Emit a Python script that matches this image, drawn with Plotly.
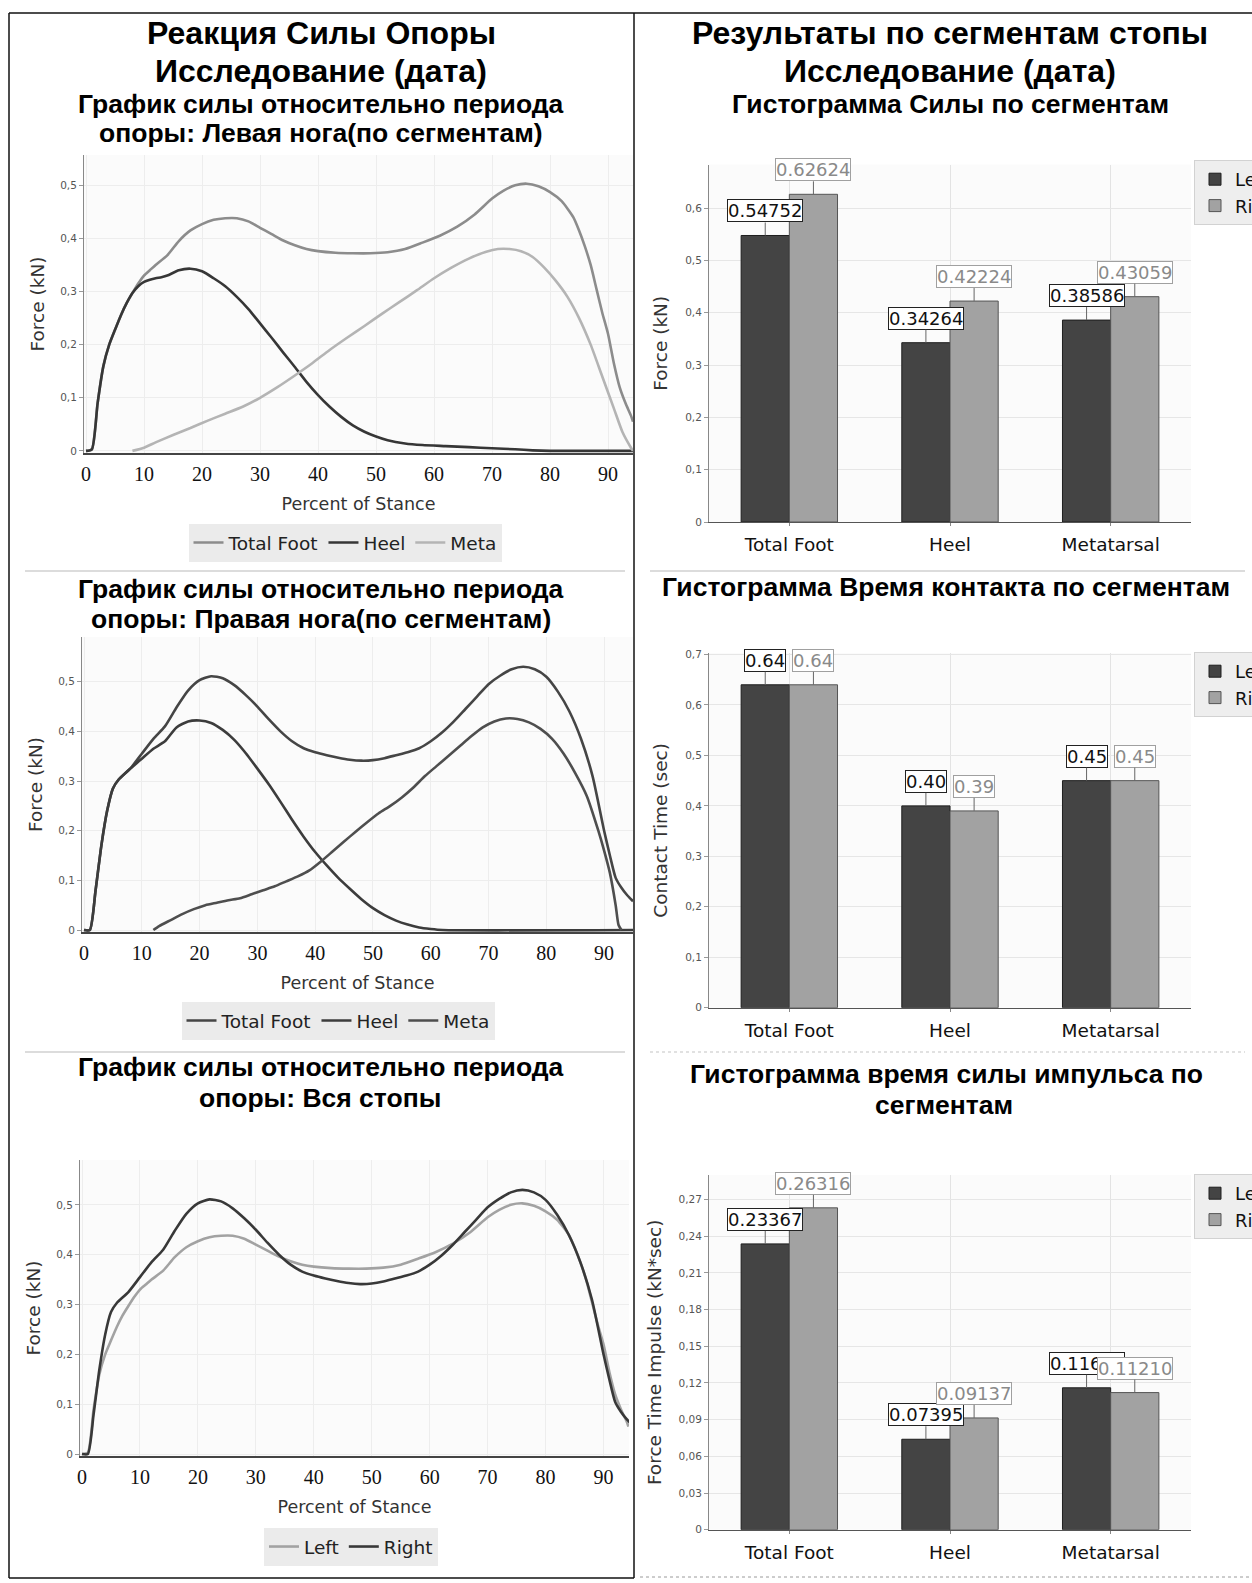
import plotly.graph_objects as go

W, H = 1252, 1583

# ---------------- Force vs Percent of Stance: left foot by segment ----------------
lt_pct = [0, 1, 2, 3, 4, 5, 6, 7, 8, 9, 10, 11, 12, 14, 16, 18, 20, 22, 24, 26, 28, 30, 32, 34,
          36, 38, 40, 43, 46, 49, 52, 55, 58, 61, 64, 67, 70, 72, 74, 76, 78, 80, 82, 84, 85, 86,
          87, 88, 89, 90, 91, 92, 93, 94, 94.3]
lt_kn = [0, 0.003, 0.09, 0.16, 0.2, 0.228, 0.255, 0.278, 0.297, 0.315, 0.33, 0.34, 0.35, 0.368,
         0.395, 0.415, 0.427, 0.435, 0.438, 0.438, 0.432, 0.42, 0.408, 0.396, 0.387, 0.38, 0.376,
         0.373, 0.372, 0.372, 0.374, 0.38, 0.392, 0.405, 0.422, 0.445, 0.475, 0.49, 0.5, 0.503,
         0.498, 0.487, 0.47, 0.44, 0.415, 0.385, 0.35, 0.305, 0.26, 0.22, 0.165, 0.12, 0.09, 0.065,
         0.055]

lh_pct = [0, 1, 2, 3, 4, 5, 6, 7, 8, 9, 10, 11, 12, 13, 14, 16, 18, 20, 22, 24, 26, 28, 30, 32,
          34, 36, 38, 40, 42, 44, 46, 48, 50, 52, 55, 58, 62, 66, 70, 74, 77, 80, 94.3]
lh_kn = [0, 0.003, 0.09, 0.16, 0.2, 0.228, 0.255, 0.278, 0.297, 0.31, 0.318, 0.322, 0.325, 0.327,
         0.33, 0.34, 0.343, 0.338, 0.325, 0.31, 0.29, 0.267, 0.24, 0.213, 0.185, 0.158, 0.13,
         0.105, 0.083, 0.064, 0.048, 0.036, 0.027, 0.02, 0.014, 0.011, 0.009, 0.007, 0.005, 0.003,
         0.001, 0, 0]

lm_pct = [8, 10, 12, 15, 18, 21, 24, 27, 30, 33, 36, 39, 42, 45, 48, 51, 54, 57, 60, 63, 66, 69,
          71, 73, 75, 77, 79, 81, 83, 85, 87, 89, 91, 92.5, 94, 94.3]
lm_kn = [0, 0.006, 0.016, 0.03, 0.043, 0.057, 0.07, 0.083, 0.1, 0.12, 0.142, 0.165, 0.19, 0.213,
         0.235, 0.258, 0.28, 0.302, 0.325, 0.345, 0.362, 0.375, 0.38, 0.38, 0.376, 0.365, 0.345,
         0.32, 0.29, 0.25, 0.2, 0.14, 0.08, 0.035, 0.005, 0]

# ---------------- Force vs Percent of Stance: right foot by segment ----------------
rt_pct = [0, 1, 2, 3, 4, 5, 6, 8, 10, 12, 14, 16, 18, 20, 22, 24, 26, 28, 30, 32, 34, 36, 38, 40,
          42, 44, 46, 48, 50, 52, 54, 56, 58, 60, 62, 64, 66, 68, 70, 72, 74, 76, 78, 80, 82, 84,
          86, 88, 90, 91, 92, 93, 94, 95]
rt_kn = [0, 0.0, 0.08, 0.17, 0.24, 0.285, 0.303, 0.325, 0.355, 0.385, 0.41, 0.448, 0.482, 0.503,
         0.511, 0.507, 0.493, 0.473, 0.45, 0.424, 0.4, 0.38, 0.366, 0.358, 0.352, 0.347, 0.343,
         0.341, 0.342, 0.346, 0.352, 0.358, 0.366, 0.38, 0.398, 0.42, 0.445, 0.47, 0.495, 0.512,
         0.525, 0.53, 0.525, 0.51, 0.48, 0.44, 0.385, 0.31, 0.2, 0.15, 0.105, 0.085, 0.07, 0.058]

rh_pct = [0, 1, 2, 3, 4, 5, 6, 8, 9, 10, 12, 14, 16, 18, 20, 22, 24, 26, 28, 30, 32, 34, 36, 38,
          40, 42, 44, 46, 48, 50, 52, 54, 56, 58, 60, 62, 95]
rh_kn = [0, 0.0, 0.08, 0.17, 0.24, 0.285, 0.303, 0.325, 0.335, 0.345, 0.365, 0.38, 0.408, 0.42,
         0.422, 0.417, 0.403, 0.383, 0.356, 0.325, 0.293, 0.258, 0.222, 0.188, 0.157, 0.13, 0.105,
         0.083, 0.062, 0.044, 0.03, 0.019, 0.011, 0.005, 0.002, 0, 0]

rm_pct = [12, 13, 15, 17, 19, 21, 23, 25, 27, 29, 31, 33, 35, 37, 39, 41, 43, 45, 47, 49, 51, 53,
          55, 57, 59, 61, 63, 65, 67, 69, 71, 73, 75, 77, 79, 81, 83, 85, 87, 89, 90, 91, 92, 92.5,
          93]
rm_kn = [0, 0.008, 0.02, 0.032, 0.042, 0.05, 0.055, 0.06, 0.064, 0.072, 0.08, 0.088, 0.098, 0.108,
         0.12, 0.138, 0.158, 0.178, 0.198, 0.217, 0.235, 0.25, 0.267, 0.287, 0.31, 0.33, 0.35,
         0.37, 0.39, 0.408, 0.42, 0.426, 0.425, 0.418, 0.405, 0.385, 0.355, 0.316, 0.27, 0.2,
         0.16, 0.115, 0.05, 0.01, 0]

# ---------------- Segment histograms ----------------
segments = ["Total Foot", "Heel", "Metatarsal"]
force_left = [0.54752, 0.34264, 0.38586]
force_right = [0.62624, 0.42224, 0.43059]
contact_left = [0.64, 0.40, 0.45]
contact_right = [0.64, 0.39, 0.45]
impulse_left = [0.23367, 0.07395, 0.11602]
impulse_right = [0.26316, 0.09137, 0.11210]

SANS = "DejaVu Sans"
TITLE_FONT = "Liberation Sans"


def xdom(a, b):
    return [a / W, b / W]


def ydom(top, bottom):
    return [1 - bottom / H, 1 - top / H]


fig = go.Figure()


def add_line(x, y, name, color, n, legend):
    sfx = "" if n == 1 else str(n)
    fig.add_trace(go.Scatter(
        x=x, y=y, name=name, mode="lines",
        line=dict(color=color, width=2.6, shape="spline", smoothing=0.6),
        xaxis="x" + sfx, yaxis="y" + sfx, legend=legend, hoverinfo="skip"))


add_line(lt_pct, lt_kn, "Total Foot", "#8c8c8c", 1, "legend")
add_line(lh_pct, lh_kn, "Heel", "#363636", 1, "legend")
add_line(lm_pct, lm_kn, "Meta", "#b4b4b4", 1, "legend")

add_line(rt_pct, rt_kn, "Total Foot", "#454545", 2, "legend2")
add_line(rh_pct, rh_kn, "Heel", "#3c3c3c", 2, "legend2")
add_line(rm_pct, rm_kn, "Meta", "#4e4e4e", 2, "legend2")

add_line(lt_pct, lt_kn, "Left", "#a2a2a2", 3, "legend3")
add_line(rt_pct, rt_kn, "Right", "#383838", 3, "legend3")


def add_bars(n, left, right, legend):
    sfx = str(n)
    fig.add_trace(go.Bar(x=segments, y=left, name="Left", xaxis="x" + sfx, yaxis="y" + sfx,
                         marker=dict(color="#444444", line=dict(color="#1e1e1e", width=1)),
                         legend=legend, hoverinfo="skip"))
    fig.add_trace(go.Bar(x=segments, y=right, name="Right", xaxis="x" + sfx, yaxis="y" + sfx,
                         marker=dict(color="#a2a2a2", line=dict(color="#555555", width=1)),
                         legend=legend, hoverinfo="skip"))


add_bars(4, force_left, force_right, "legend4")
add_bars(5, contact_left, contact_right, "legend5")
add_bars(6, impulse_left, impulse_right, "legend6")

layout = {}


def line_axes(n, xd, yd, xr, yr):
    sfx = "" if n == 1 else str(n)
    layout["xaxis" + sfx] = dict(
        domain=xdom(*xd), range=xr, anchor="y" + sfx, tickvals=list(range(0, 91, 10)),
        tickfont=dict(family="Liberation Serif", size=20, color="#111"), ticks="",
        ticklabelstandoff=2, showline=True, linecolor="#444", linewidth=1.5, showgrid=True,
        gridcolor="#ededed", zeroline=False, automargin=False,
        title=dict(text="Percent of Stance", font=dict(family=SANS, size=17.5, color="#333"),
                   standoff=14))
    layout["yaxis" + sfx] = dict(
        domain=ydom(*yd), range=yr, anchor="x" + sfx, tick0=0, dtick=0.1,
        tickfont=dict(family=SANS, size=10.5, color="#555"), ticks="outside", ticklen=4,
        tickcolor="#999", showline=True, linecolor="#888", linewidth=1, showgrid=True,
        gridcolor="#ededed", zeroline=False, automargin=False,
        title=dict(text="Force (kN)", font=dict(family=SANS, size=18.5, color="#333"),
                   standoff=10))


line_axes(1, (84, 633), (155, 453), [-0.35, 94.3], [-0.004, 0.557])
line_axes(2, (82, 633), (637, 932), [-0.35, 95.0], [-0.004, 0.59])
line_axes(3, (80, 629), (1160, 1456), [-0.35, 94.4], [-0.004, 0.59])


def bar_axes(n, yd, yr, dtick, ytitle):
    sfx = str(n)
    layout["xaxis" + sfx] = dict(
        domain=xdom(709, 1191), range=[-0.5, 2.5], anchor="y" + sfx, type="category",
        tickfont=dict(family=SANS, size=18.5, color="#111"), ticks="outside", ticklen=3,
        tickcolor="#888", ticklabelstandoff=3, showline=True, linecolor="#555", linewidth=1.2,
        showgrid=True, gridcolor="#e3e3e3", zeroline=False, automargin=False)
    layout["yaxis" + sfx] = dict(
        domain=ydom(*yd), range=yr, anchor="x" + sfx, tick0=0, dtick=dtick,
        tickfont=dict(family=SANS, size=10.5, color="#555"), ticks="outside", ticklen=4,
        tickcolor="#999", showline=True, linecolor="#888", linewidth=1, showgrid=True,
        gridcolor="#e6e6e6", zeroline=False, automargin=False,
        title=dict(text=ytitle, font=dict(family=SANS, size=18.5, color="#333"), standoff=12))


bar_axes(4, (164.6, 522), [0, 0.683], 0.1, "Force (kN)")
bar_axes(5, (653, 1007.7), [0, 0.703], 0.1, "Contact Time (sec)")
bar_axes(6, (1175, 1529.7), [0, 0.29], 0.03, "Force Time Impulse (kN*sec)")

annotations = []

# value boxes above each bar, joined to the bar top by a short leader
BAR_OFFSET = 0.15


def bar_labels(n, left, right, fmt):
    sfx = str(n)
    for vals, off, txt_col, box_col in ((left, -BAR_OFFSET, "#111111", "#222222"),
                                        (right, BAR_OFFSET, "#8a8a8a", "#a0a0a0")):
        for i, v in enumerate(vals):
            annotations.append(dict(
                x=i + off, y=v, xref="x" + sfx, yref="y" + sfx, text=fmt.format(v),
                showarrow=True, arrowhead=0, arrowwidth=1, arrowcolor="#666", ax=0, ay=-13,
                xanchor="center", yanchor="bottom", bgcolor="white", bordercolor=box_col,
                borderwidth=1, borderpad=0, font=dict(family=SANS, size=18, color=txt_col)))


bar_labels(4, force_left, force_right, "{:.5f}")
bar_labels(5, contact_left, contact_right, "{:.2f}")
bar_labels(6, impulse_left, impulse_right, "{:.5f}")

# block headings
BIG, SMALL = 32, 26.5
headings = [
    ("Реакция Силы Опоры", 321, 33, BIG),
    ("Исследование (дата)", 321, 71, BIG),
    ("График силы относительно периода", 321, 104, SMALL),
    ("опоры: Левая нога(по сегментам)", 321, 133, SMALL),
    ("График силы относительно периода", 321, 589, SMALL),
    ("опоры: Правая нога(по сегментам)", 321, 619, SMALL),
    ("График силы относительно периода", 321, 1067, SMALL),
    ("опоры: Вся стопы", 320, 1098, SMALL),
    ("Результаты по сегментам стопы", 950, 33, BIG),
    ("Исследование (дата)", 950, 71, BIG),
    ("Гистограмма Силы по сегментам", 950, 104, SMALL),
    ("Гистограмма Время контакта по сегментам", 946, 587, SMALL),
    ("Гистограмма время силы импульса по", 946, 1074, SMALL),
    ("сегментам", 944, 1105, SMALL),
]
for text, x, y, size in headings:
    annotations.append(dict(
        text="<b>" + text + "</b>", x=x / W, y=1 - y / H, xref="paper", yref="paper",
        xanchor="center", yanchor="middle", showarrow=False,
        font=dict(family=TITLE_FONT, size=size, color="#000")))

# page frame and section rules
shapes = []


def rule(x0, y0, x1, y1, color="#111", width=1.5, dash="solid"):
    shapes.append(dict(type="line", xref="paper", yref="paper", x0=x0 / W, y0=1 - y0 / H,
                       x1=x1 / W, y1=1 - y1 / H, line=dict(color=color, width=width, dash=dash)))


rule(9, 13, 1252, 13)
rule(9, 13, 9, 1578)
rule(634, 13, 634, 1578)
rule(9, 1578, 634, 1578)
rule(640, 1577, 1252, 1577, color="#9a9a9a", width=1, dash="dot")
rule(25, 571, 625, 571, color="#d0d0d0", width=1.5)
rule(650, 571, 1245, 571, color="#d0d0d0", width=1.5)
rule(25, 1052, 625, 1052, color="#d0d0d0", width=1.5)
rule(650, 1052, 1245, 1052, color="#d8d8d8", width=1.5, dash="dot")

line_legend = dict(orientation="h", xanchor="center", yanchor="middle", bgcolor="#ebebeb",
                   font=dict(family=SANS, size=18.5, color="#222"), itemwidth=30)
bar_legend = dict(orientation="v", xanchor="left", yanchor="top", bgcolor="#eeeeee",
                  bordercolor="#d2d2d2", borderwidth=1,
                  font=dict(family=SANS, size=18, color="#111"))

fig.update_layout(
    width=W, height=H, margin=dict(l=0, r=0, t=0, b=0, autoexpand=False),
    paper_bgcolor="white", plot_bgcolor="#fbfbfb", separators=", ",
    barmode="group", bargap=0.4, bargroupgap=0,
    legend=dict(line_legend, x=345 / W, y=1 - 543 / H),
    legend2=dict(line_legend, x=338 / W, y=1 - 1021 / H),
    legend3=dict(line_legend, x=351 / W, y=1 - 1547 / H),
    legend4=dict(bar_legend, x=1194 / W, y=1 - 160 / H),
    legend5=dict(bar_legend, x=1194 / W, y=1 - 652 / H),
    legend6=dict(bar_legend, x=1194 / W, y=1 - 1174 / H),
    annotations=annotations, shapes=shapes, **layout)

fig.write_html("out.html")
